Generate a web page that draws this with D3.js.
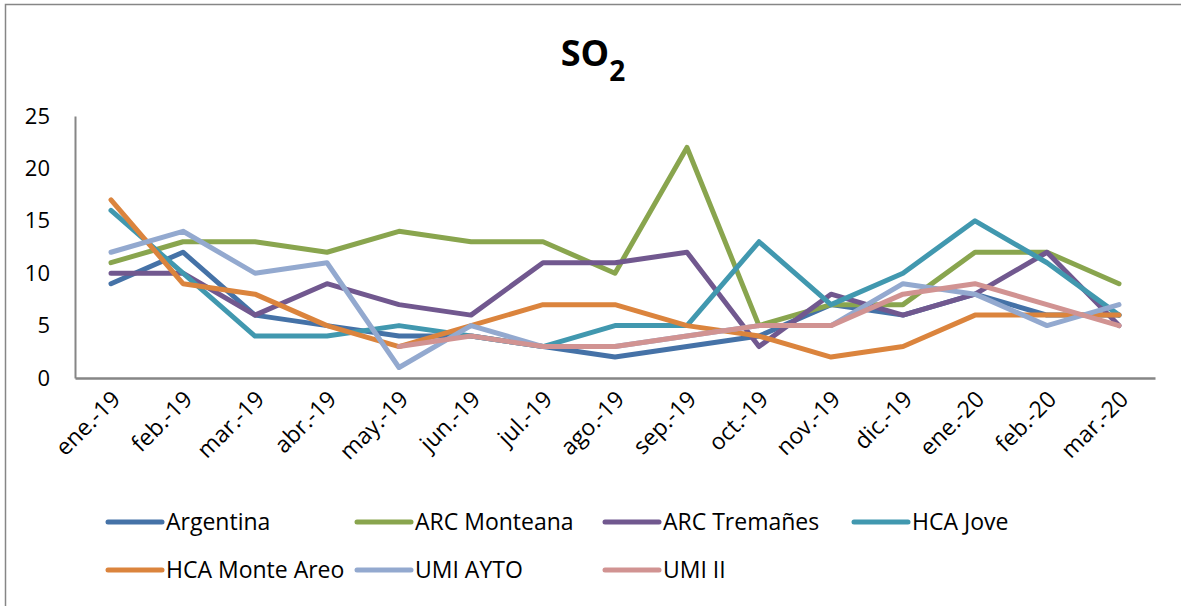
<!DOCTYPE html>
<html>
<head>
<meta charset="utf-8">
<script src="https://cdn.jsdelivr.net/npm/d3@7"></script>
<style>
  html, body { margin: 0; padding: 0; background: #fff; }
  svg { display: block; }
  text { font-family: "Open Sans", "DejaVu Sans", sans-serif; fill: #000; }
</style>
</head>
<body>
<svg id="chart" width="1181" height="606"></svg>
<script>
// Monthly SO2 readings per monitoring station
const months = ["ene.-19", "feb.-19", "mar.-19", "abr.-19", "may.-19", "jun.-19", "jul.-19",
                "ago.-19", "sep.-19", "oct.-19", "nov.-19", "dic.-19", "ene.-20", "feb.-20", "mar.-20"];
const yTicks = [0, 5, 10, 15, 20, 25];

const argentina    = [9, 12, 6, 5, 4, 4, 3, 2, 3, 4, 7, 6, 8, 6, 6];
const arcMonteana  = [11, 13, 13, 12, 14, 13, 13, 10, 22, 5, 7, 7, 12, 12, 9];
const arcTremanes  = [10, 10, 6, 9, 7, 6, 11, 11, 12, 3, 8, 6, 8, 12, 5];
const hcaJove      = [16, 10, 4, 4, 5, 4, 3, 5, 5, 13, 7, 10, 15, 11, 6];
const hcaMonteAreo = [17, 9, 8, 5, 3, 5, 7, 7, 5, 4, 2, 3, 6, 6, 6];
const umiAyto      = [12, 14, 10, 11, 1, 5, 3, 3, 4, 5, 5, 9, 8, 5, 7];
const umiII        = [null, null, null, null, 3, 4, 3, 3, 4, 5, 5, 8, 9, 7, 5];

const seriesNames  = ["Argentina", "ARC Monteana", "ARC Tremañes", "HCA Jove",
                      "HCA Monte Areo", "UMI AYTO", "UMI II"];
const seriesValues = [argentina, arcMonteana, arcTremanes, hcaJove, hcaMonteAreo, umiAyto, umiII];
const seriesColors = ["#4572A7", "#89A54E", "#71588F", "#4198AF", "#DB843D", "#93A9CF", "#D19392"];

const svg = d3.select("#chart");

// outer chart frame
svg.append("rect")
  .attr("x", 5.5).attr("y", 4.5)
  .attr("width", 1200).attr("height", 620)
  .attr("fill", "none").attr("stroke", "#868686").attr("stroke-width", 1.5);

// plot area
const plot = { left: 75, right: 1155, top: 116, bottom: 378 };

const x = d3.scaleBand().domain(months).range([plot.left, plot.right]);
const xc = m => x(m) + x.bandwidth() / 2;
const y = d3.scaleLinear().domain([0, 25]).range([plot.bottom, plot.top]);

// title with subscript
const title = svg.append("text")
  .attr("x", 593).attr("y", 66)
  .attr("text-anchor", "middle")
  .style("font-weight", "bold")
  .style("font-size", "36px");
title.append("tspan").text("SO");
title.append("tspan").attr("dy", 15).style("font-size", "28px").text("2");

// y axis
const yAxis = d3.axisLeft(y).tickValues(yTicks).tickSize(0).tickPadding(25);
const gy = svg.append("g").attr("transform", `translate(${plot.left},0)`).call(yAxis);
gy.select(".domain").attr("stroke", "#868686").attr("stroke-width", 2);
gy.selectAll("text").style("font-size", "22px").style("font-family", "'Open Sans', sans-serif");

// x axis
const xAxis = d3.axisBottom(x).tickSize(0).tickPadding(0);
const gx = svg.append("g").attr("transform", `translate(0,${plot.bottom})`).call(xAxis);
gx.select(".domain").attr("stroke", "#868686").attr("stroke-width", 2.5);
gx.selectAll(".tick text")
  .style("font-size", "23px")
  .style("font-family", "'Open Sans', sans-serif")
  .attr("text-anchor", "end")
  .attr("dy", "0.35em")
  .attr("transform", "translate(5,17) rotate(-45)");

// series lines, drawn in legend order so later stations sit on top
const line = d3.line()
  .defined(d => d != null)
  .x((d, i) => xc(months[i]))
  .y(d => y(d));

svg.append("g").selectAll("path")
  .data(seriesValues)
  .join("path")
  .attr("d", line)
  .attr("fill", "none")
  .attr("stroke", (d, i) => seriesColors[i])
  .attr("stroke-width", 5)
  .attr("stroke-linejoin", "round")
  .attr("stroke-linecap", "round");

// legend: four entries per row
const legendCols = [106, 355, 603, 852];
const legendRows = [522, 570];
const legend = svg.append("g").selectAll("g")
  .data(seriesNames)
  .join("g")
  .attr("transform", (d, i) => `translate(${legendCols[i % 4]},${legendRows[Math.floor(i / 4)]})`);

legend.append("line")
  .attr("x1", 2).attr("x2", 56).attr("y1", 0).attr("y2", 0)
  .attr("stroke", (d, i) => seriesColors[i])
  .attr("stroke-width", 5)
  .attr("stroke-linecap", "round");

legend.append("text")
  .attr("x", 60).attr("y", 0).attr("dy", "0.35em")
  .style("font-size", "23px")
  .text(d => d);
</script>
</body>
</html>
